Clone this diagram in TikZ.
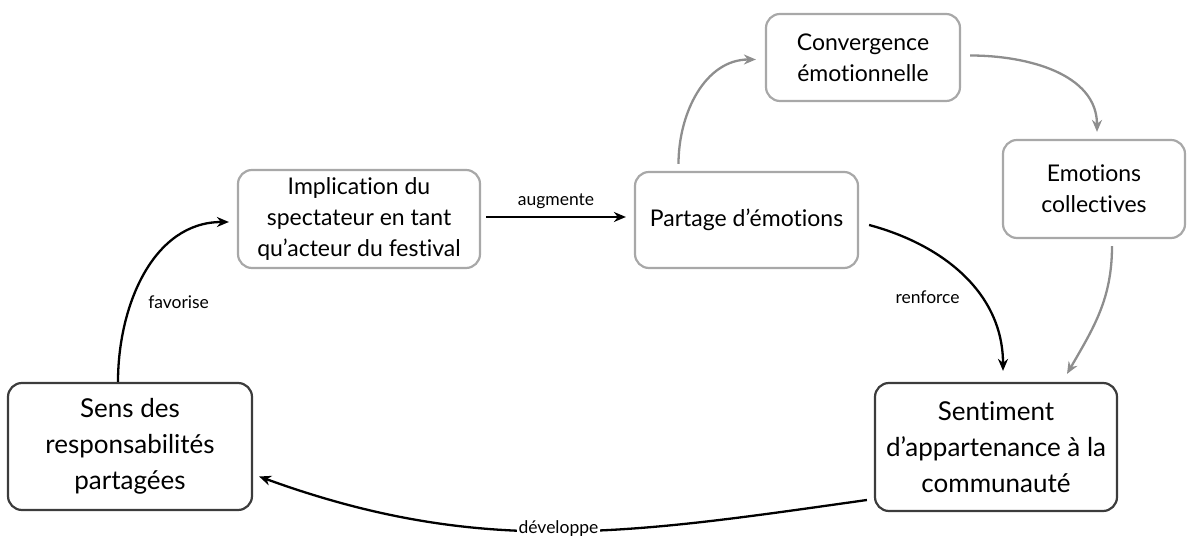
\documentclass[tikz,border=0pt]{standalone}
\usepackage{fontspec}
\setmainfont{Lato}[Ligatures=NoCommon]
\usetikzlibrary{shapes,arrows,positioning,calc,arrows.meta}
\definecolor{boxgray}{HTML}{A8A8A8}
\definecolor{boxdark}{HTML}{3C3C3C}
\definecolor{arrgray}{HTML}{8E8E8E}
\begin{document}
\begin{tikzpicture}[x=1pt, y=1pt,
      state/.style={rectangle, draw=boxgray, line width=2.2pt, rounded corners=14pt, align=center, font=\fontsize{23}{31}\selectfont, inner sep=0pt},
      keystate/.style={state, draw=boxdark, font=\fontsize{26}{36}\selectfont},
      arrow/.style={-{Stealth[length=12pt,width=10pt]}, line width=2.3pt, black, font=\fontsize{17.5}{19}\selectfont},
      grayarrow/.style={arrow, arrgray},
    ]
    \useasboundingbox (0,0) rectangle (1190,545);
    \node [keystate, minimum width=244pt, minimum height=127pt] (resp) at (130, 98.5) {Sens des\\responsabilités\\partagées};
    \node [state, minimum width=242pt, minimum height=98pt] (impl) at (359, 326) {Implication du\\spectateur en tant\\qu’acteur du festival};
    \node [state, minimum width=223pt, minimum height=96pt] (partage) at (746.5, 325) {Partage d’émotions};
    \node [state, minimum width=194pt, minimum height=87pt] (conv) at (863, 487.5) {Convergence\\émotionnelle};
    \node [state, minimum width=182pt, minimum height=98pt] (emo) at (1094, 356) {Emotions\\collectives};
    \node [keystate, minimum width=242pt, minimum height=128pt] (sent) at (996, 98) {Sentiment\\d’appartenance à la\\communauté};
    \draw [arrow] ([xshift=-12pt]resp.north) to [out=90, in=180] node [pos=0.45, right, xshift=4pt, yshift=-19pt] {favorise} ([xshift=-8pt, yshift=-3pt]impl.west);
    \draw [arrow] ([xshift=5pt, yshift=2pt]impl.east) -- node [midway, above, yshift=4pt] {augmente} ([xshift=-8pt, yshift=3pt]partage.west);
    \draw [grayarrow] ([xshift=-68pt, yshift=7pt]partage.north) to [out=90, in=180] ([xshift=-9pt, yshift=-2pt]conv.west);
    \draw [grayarrow] ([xshift=9pt, yshift=2pt]conv.east) to [out=0, in=90] ([xshift=3pt, yshift=7pt]emo.north);
    \draw [grayarrow] ([xshift=18pt, yshift=-7pt]emo.south) to [out=-90, in=60] ([xshift=71pt, yshift=8pt]sent.north);
    \draw [arrow] ([xshift=10pt, yshift=-5pt]partage.east) to [out=-15, in=90] node [pos=0.5, left, xshift=0pt, yshift=-21pt] {renforce} ([xshift=7pt, yshift=11pt]sent.north);
    \draw [arrow] ([xshift=-7pt, yshift=-53pt]sent.west) to [out=188, in=-20] node [pos=0.5, fill=white, inner sep=2pt, yshift=3pt] {développe} ([xshift=6pt, yshift=-30pt]resp.east);
  \end{tikzpicture}
\end{document}
